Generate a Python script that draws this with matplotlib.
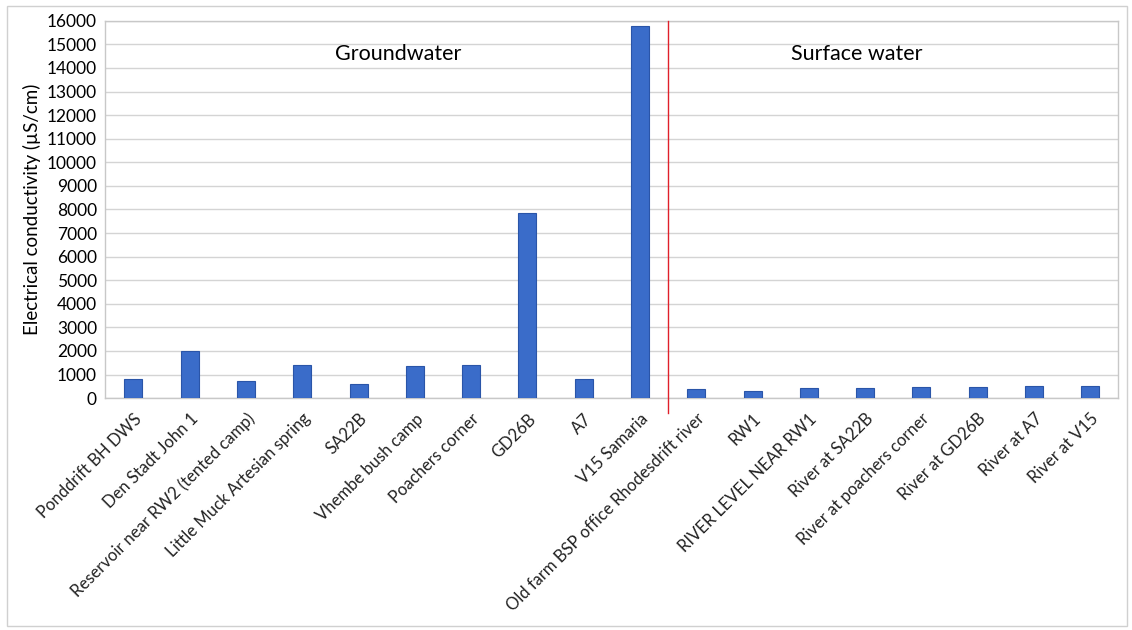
import matplotlib
matplotlib.use("Agg")
import matplotlib.pyplot as plt
from matplotlib.patches import Rectangle

categories = [
    "Ponddrift BH DWS", "Den Stadt John 1", "Reservoir near RW2 (tented camp)",
    "Little Muck Artesian spring", "SA22B", "Vhembe bush camp", "Poachers corner",
    "GD26B", "A7", "V15 Samaria",
    "Old farm BSP office Rhodesdrift river", "RW1", "RIVER LEVEL NEAR RW1",
    "River at SA22B", "River at poachers corner", "River at GD26B",
    "River at A7", "River at V15",
]
ec_values = [800, 1990, 730, 1400, 600, 1350, 1400, 7850, 800, 15780,
             400, 300, 450, 450, 480, 470, 500, 500]
group_labels = ["Groundwater", "Surface water"]
n_ground = 10

plt.rcParams['font.family'] = ['Lato', 'DejaVu Sans']

fig = plt.figure(figsize=(11.32, 6.30), dpi=100)
ax = fig.add_axes([0.093, 0.368, 0.895, 0.599])

x = list(range(len(categories)))
ax.bar(x, ec_values, width=0.32, color='#3a6cc9', edgecolor='#2a55a8', linewidth=0.8, zorder=3)

ax.set_xlim(-0.5, len(categories) - 0.5)
ax.set_ylim(0, 16000)
ax.set_yticks(range(0, 16001, 1000))
ax.yaxis.grid(True, color='#d4d4d4', linewidth=1.0, zorder=0)
ax.tick_params(axis='y', length=0, labelsize=12.5, pad=6)
ax.tick_params(axis='x', length=0, pad=9)
ax.set_xticks(x)
ax.set_xticklabels(categories, rotation=45, ha='right', rotation_mode='anchor',
                   fontsize=12, color='#222222')
ax.set_ylabel("Electrical conductivity (µS/cm)", fontsize=13.5, labelpad=4)

for s in ax.spines.values():
    s.set_color('#c8c8c8')
    s.set_linewidth(1.0)

ax.axvline(n_ground - 0.5, ymin=-0.04, ymax=1.0, color='#e0202a', linewidth=1.0,
           clip_on=False, zorder=4)

ax.text(4.7, 14600, group_labels[0], ha='center', va='center', fontsize=15.5)
ax.text(12.85, 14600, group_labels[1], ha='center', va='center', fontsize=15.5)

fig.patches.append(Rectangle((0.006, 0.006), 0.99, 0.985, transform=fig.transFigure,
                             fill=False, edgecolor='#d0d0d0', linewidth=1.0))

fig.savefig("out.png", dpi=100, facecolor='white')
